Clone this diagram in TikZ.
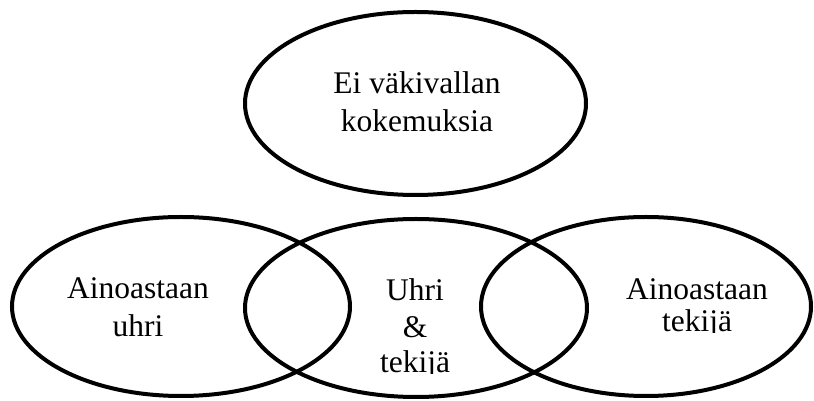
\documentclass[tikz,border=0pt]{standalone}
\usepackage{fontspec}
\setmainfont{Liberation Serif}
\usetikzlibrary{shapes.geometric}
\begin{document}
\begin{tikzpicture}[x=1pt,y=1pt,
  venn/.style={draw=black,line width=4pt,shape=ellipse,inner sep=0pt},
  lbl/.style={anchor=base,inner sep=0pt,font=\fontsize{31.5}{38}\selectfont}]
\useasboundingbox (0,0) rectangle (814,401);
% ellipses
\node[venn,minimum width=341pt,minimum height=183pt] (top) at (415.5,297.5) {};
\node[venn,minimum width=338pt,minimum height=179pt] (left) at (181,94.5) {};
\node[venn,minimum width=342pt,minimum height=178pt] (mid) at (416,93) {};
\node[venn,minimum width=330pt,minimum height=179pt] (right) at (646,94.5) {};
% texts
\node[lbl] (t1) at (417,307) {Ei väkivallan};
\node[lbl] (t2) at (417,269) {kokemuksia};
\node[lbl] (l1) at (138,102) {Ainoastaan};
\node[lbl] (l2) at (138,64) {uhri};
\node[lbl] (m1) at (415,100) {Uhri};
\node[lbl] (m2) at (415,63) {\&};
\begin{scope}
  \clip (360,27) rectangle (470,60);
  \node[lbl] (m3) at (415,28) {tekijä};
\end{scope}
\node[lbl] (r1) at (697,101) {Ainoastaan};
\begin{scope}
  \clip (640,68) rectangle (760,100);
  \node[lbl] (r2) at (697,69) {tekijä};
\end{scope}
\end{tikzpicture}
\end{document}
